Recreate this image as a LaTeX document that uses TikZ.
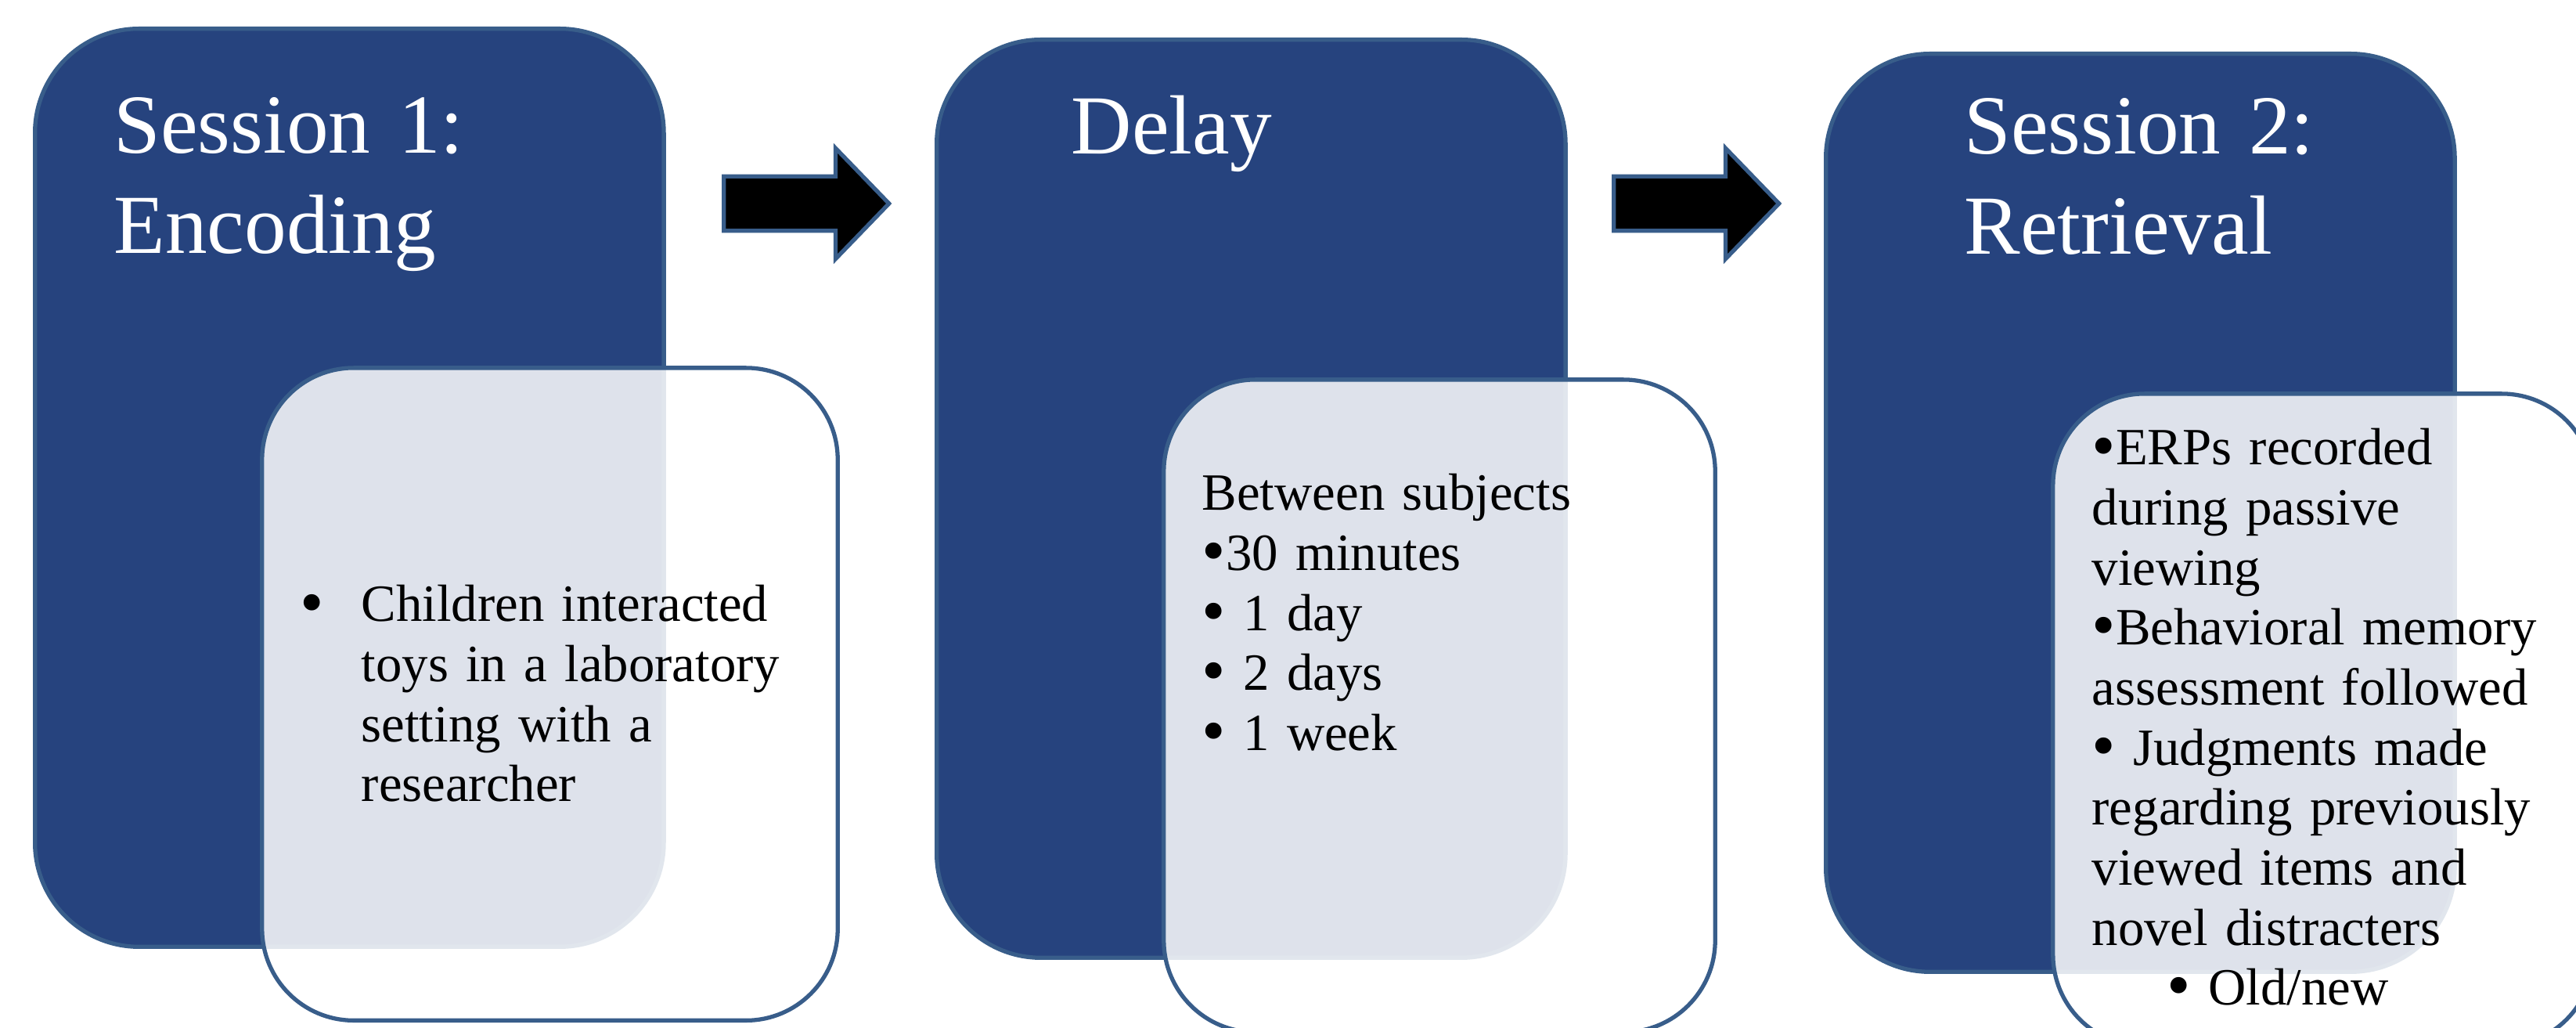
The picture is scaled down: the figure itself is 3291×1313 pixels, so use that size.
\documentclass[tikz,border=0pt]{standalone}
\usepackage{fontspec}
\setmainfont{Liberation Serif}
\usetikzlibrary{positioning,shapes.arrows}
\definecolor{boxblue}{HTML}{26437E}
\definecolor{edgeblue}{HTML}{385D8A}
\newcommand{\bul}{\smash{\raisebox{-0.06em}{\scalebox{1.3}{\textbullet}}}}

\begin{document}
\begin{tikzpicture}[x=0.01cm,y=-0.01cm,
  bigbox/.style={draw=edgeblue,fill=boxblue,line width=1.5pt,rounded corners=1.33cm,minimum width=8.03cm,minimum height=11.72cm,inner sep=0pt,anchor=north west},
  notebox/.style={draw=edgeblue,fill=white,fill opacity=0.85,line width=1.5pt,rounded corners=1.17cm,minimum height=8.33cm,inner sep=0pt,anchor=north west},
  blockarr/.style={single arrow,draw=edgeblue,fill=black,line width=1.5pt,minimum height=2.11cm,inner xsep=0pt,inner ysep=0.32cm,single arrow head extend=0.36cm,single arrow tip angle=92,anchor=tail},
  titletext/.style={anchor=base west,inner sep=0pt,text=white,text width=7cm,align=left,font=\fontsize{30.5}{36.4}\selectfont},
  notetext/.style={anchor=base west,inner sep=0pt,text width=7.5cm,align=left,font=\fontsize{19}{21.8}\selectfont}]
\path[use as bounding box,clip] (0,0) rectangle (3291,1313);
% stages
\node[bigbox] (s1) at (42,34) {};
\node[bigbox] (s2) at (1194,48) {};
\node[bigbox] (s3) at (2330,66) {};
% detail panels
\node[notebox,minimum width=7.35cm] (n1) at ([xshift=2.9cm,yshift=-4.33cm]s1.north west) {};
\node[notebox,minimum width=7.04cm] (n2) at ([xshift=2.9cm,yshift=-4.34cm]s2.north west) {};
\node[notebox,minimum width=6.9cm] (n3) at ([xshift=2.9cm,yshift=-4.34cm]s3.north west) {};
% block arrows
\node[blockarr] (a1) at (922,260) {};
\node[blockarr] (a2) at (2059,260) {};
% titles
\node[titletext] (t1) at (145,196) {Session 1:\\Encoding};
\node[titletext] (t2) at (1368,197) {Delay};
\node[titletext] (t3) at (2509,197) {Session 2:\\Retrieval};
% details
\node[notetext] (d1) at (383,794) {\makebox[0.78cm][l]{\bul}\parbox[t]{6cm}{Children interacted\\toys in a laboratory\\setting with a\\researcher}};
\node[notetext] (d2) at (1535,652) {Between subjects\\\bul30 minutes\\\bul\ 1 day\\\bul\ 2 days\\\bul\ 1 week};
\node[notetext] (d3) at (2672,594) {\bul ERPs recorded\\during passive\\viewing\\\bul Behavioral memory\\assessment followed\\\bul\ Judgments made\\regarding previously\\viewed items and\\novel distracters\\\hspace*{0.96cm}\bul\ Old/new};
\end{tikzpicture}
\end{document}
